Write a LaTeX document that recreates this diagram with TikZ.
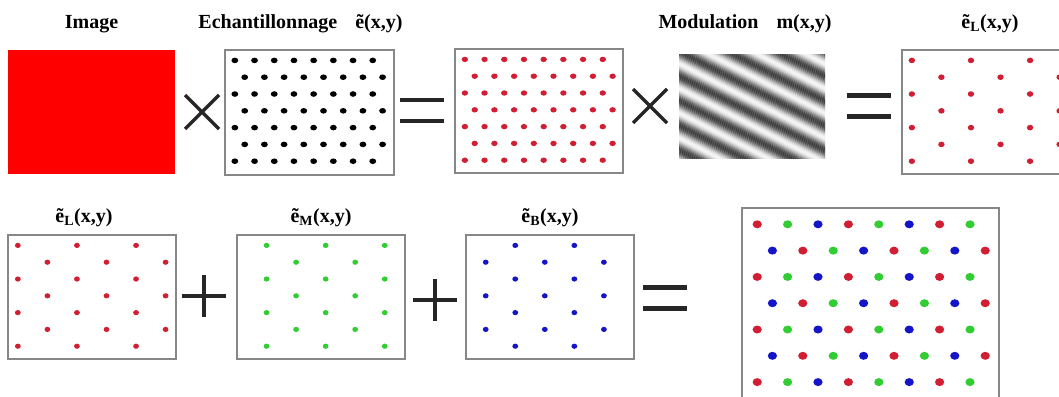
\documentclass[tikz,border=0pt]{standalone}
\usepackage{fontspec}
\setmainfont{Liberation Serif}
\usetikzlibrary{positioning}

\definecolor{dotred}{RGB}{210,30,50}
\definecolor{dotgreen}{RGB}{50,205,50}
\definecolor{dotblue}{RGB}{20,20,200}
\definecolor{framegray}{RGB}{135,135,135}
\colorlet{chan0}{dotred}
\colorlet{chan1}{dotgreen}
\colorlet{chan2}{dotblue}

% sampling sites: #1 channel kept (3 = every site), #2/#3 pitch x/y, #4/#5 dot radii
\newcommand{\sitegrid}[5]{%
  \foreach \r in {0,...,6}
    \foreach \k in {0,...,7}{
      \pgfmathtruncatemacro\chan{mod(\k-mod(\r,2)+3,3)}
      \ifnum#1=3 \def\keep{1}\else\ifnum#1=\chan\relax\def\keep{1}\else\def\keep{0}\fi\fi
      \ifnum\keep=1
        \fill[chan\chan] ({(0.5+mod(\r,2)/2+\k)*#2}, {(0.62+\r)*#3}) ellipse [x radius=#4pt, y radius=#5pt];
      \fi}}

\begin{document}
\begin{tikzpicture}[x=1pt, y=-1pt,
panel/.style={draw=framegray, line width=1.3pt, fill=white, anchor=north west, inner sep=0pt, outer sep=0pt, minimum width=168pt, minimum height=124pt},
lbl/.style={font=\fontsize{20}{24}\selectfont\bfseries, inner sep=0pt},
op/.style={line width=4.4pt, black!85},
opTimes/.pic={\draw[op, line width=3.2pt] (-17,-17) -- (17,17) (-17,17) -- (17,-17);},
opEq/.pic={\draw[op] (-22,-10.5) -- (22,-10.5) (-22,10.5) -- (22,10.5);},
opPlus/.pic={\draw[op] (-22,0) -- (22,0) (0,-21) -- (0,21);}
]
\useasboundingbox (0,0) rectangle (1059,396);
\clip (0,0) rectangle (1059,396);
\fill[white] (0,0) rectangle (1059,396);

% first row
\node[panel, fill=red, draw=none, minimum width=167pt] (img) at (8,50) {};
\node[panel, minimum width=169pt, minimum height=125pt] (samp) at (225,50) {};
\node[panel] (redsamp) at (455,49) {};
\node[panel, draw=none, minimum width=146pt, minimum height=103pt] (mod) at (679,55) {};
\node[panel] (ltop) at (902,50) {};

% second row
\node[panel] (lbot) at (8,235) {};
\node[panel] (mbot) at (237,235) {};
\node[panel] (bbot) at (466,235) {};
\node[panel, minimum width=257pt, minimum height=200pt] (mix) at (742,208) {};

% labels
\node[lbl, above=17pt of img] (imgtxt) {Image};
\node[lbl, above=17pt of samp, xshift=-9pt] (samptxt) {Echantillonnage\hspace{0.9em}ẽ(x,y)};
\node[lbl, above=22pt of mod, xshift=-7pt] (modtxt) {Modulation\hspace{0.9em}m(x,y)};
\node[lbl, above=17pt of ltop, xshift=4pt] (ltoptxt) {ẽ\textsubscript{L}(x,y)};
\node[lbl, above=8pt of lbot, xshift=-8pt] (lbottxt) {ẽ\textsubscript{L}(x,y)};
\node[lbl, above=8pt of mbot] (mbottxt) {ẽ\textsubscript{M}(x,y)};
\node[lbl, above=8pt of bbot] (bbottxt) {ẽ\textsubscript{B}(x,y)};

% sampling grids
\begin{scope}[shift={(samp.north west)}]
  \colorlet{chan0}{black}\colorlet{chan1}{black}\colorlet{chan2}{black}
  \sitegrid{3}{19.7}{16.8}{3.4}{2.8}
\end{scope}
\begin{scope}[shift={(redsamp.north west)}]
  \colorlet{chan1}{dotred}\colorlet{chan2}{dotred}
  \sitegrid{3}{19.7}{16.8}{3.2}{2.7}
\end{scope}
\begin{scope}[shift={(ltop.north west)}]
  \sitegrid{0}{19.7}{16.8}{3.2}{2.8}
\end{scope}
\begin{scope}[shift={(lbot.north west)}]
  \sitegrid{0}{19.7}{16.8}{2.9}{2.6}
\end{scope}
\begin{scope}[shift={(mbot.north west)}]
  \sitegrid{1}{19.7}{16.8}{2.9}{2.6}
\end{scope}
\begin{scope}[shift={(bbot.north west)}]
  \sitegrid{2}{19.7}{16.8}{2.9}{2.6}
\end{scope}
\begin{scope}[shift={(mix.north west)}]
  \sitegrid{3}{30.4}{26.3}{4.6}{4.0}
\end{scope}

% modulation stripes
\begin{scope}
  \clip (mod.north west) rectangle (mod.south east);
  \begin{scope}[shift={(mod.center)}, rotate=-27]
    \foreach \t in {-100,-99,...,100}{
      \pgfmathsetmacro\g{40+36*cos(16.36*(\t-5.6))}
      \fill[black!\g] (-120,\t) rectangle (120,\t+1.1);
    }
  \end{scope}
\end{scope}

% operators
\pic at (202,112) {opTimes};
\pic at (422,110.5) {opEq};
\pic at (650,106) {opTimes};
\pic at (869,106) {opEq};
\pic at (204,296) {opPlus};
\pic at (435,300) {opPlus};
\pic at (665,298) {opEq};
\end{tikzpicture}
\end{document}
